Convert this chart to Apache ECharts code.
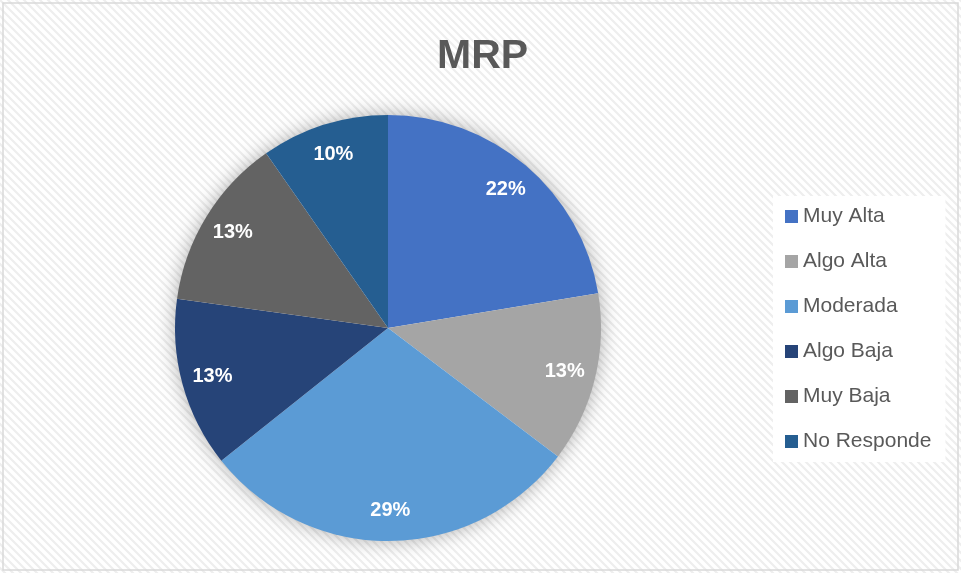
<!DOCTYPE html>
<html>
<head>
<meta charset="utf-8">
<script src="https://cdn.jsdelivr.net/npm/echarts@6/dist/echarts.min.js"></script>
<style>html,body{margin:0;padding:0;background:#fff;}#c{width:961px;height:573px;}</style>
</head>
<body>
<div id="c"></div>
<script>
const categories = ['Muy Alta', 'Algo Alta', 'Moderada', 'Algo Baja', 'Muy Baja', 'No Responde'];
const values = [22.4, 12.9, 29.0, 12.9, 13.1, 9.7];
const colors = ['#4472C4', '#A5A5A5', '#5B9BD5', '#264478', '#636363', '#255E91'];
const titleText = 'MRP';

const pc = document.createElement('canvas');
pc.width = 8; pc.height = 8;
const g = pc.getContext('2d');
g.fillStyle = '#ffffff'; g.fillRect(0, 0, 8, 8);
g.strokeStyle = '#eeeeee'; g.lineWidth = 2.2;
g.beginPath();
g.moveTo(-2, -2); g.lineTo(10, 10);
g.moveTo(-10, -2); g.lineTo(2, 10);
g.moveTo(6, -2); g.lineTo(18, 10);
g.stroke();

const data = categories.map((n, i) => ({ name: n, value: values[i], itemStyle: { color: colors[i] } }));

const chart = echarts.init(document.getElementById('c'), null, { renderer: 'canvas' });
chart.setOption({
  backgroundColor: { image: pc, repeat: 'repeat' },
  animation: false,
  title: {
    text: titleText,
    left: 432,
    top: 31,
    textStyle: { fontFamily: 'Liberation Sans', fontWeight: 'bold', fontSize: 41, color: '#595959' }
  },
  graphic: [{
    type: 'rect', shape: { x: 3, y: 3, width: 955, height: 567 },
    style: { fill: null, stroke: '#d9d9d9', lineWidth: 1.5 }, silent: true
  }],
  legend: {
    orient: 'vertical',
    left: 773,
    top: 196,
    padding: [10, 14, 10, 12],
    backgroundColor: '#ffffff',
    itemWidth: 13,
    itemHeight: 13,
    itemGap: 24,
    icon: 'rect',
    data: categories,
    textStyle: { fontFamily: 'Liberation Sans', fontSize: 21, color: '#595959', lineHeight: 21 }
  },
  series: [{
    type: 'pie',
    z: 1,
    center: [388, 328],
    radius: [0, 212],
    silent: true,
    data: [{ name: '_shadow', value: 1, itemStyle: { color: '#ffffff' } }],
    label: { show: false },
    labelLine: { show: false },
    itemStyle: { shadowBlur: 20, shadowColor: 'rgba(0,0,0,0.35)' },
    emphasis: { disabled: true }
  }, {
    type: 'pie',
    z: 2,
    center: [388, 328],
    radius: [0, 213],
    startAngle: 90,
    clockwise: true,
    data: data,
    label: { show: false },
    labelLine: { show: false },
    emphasis: { disabled: true }
  }, {
    type: 'pie',
    z: 3,
    center: [388, 328],
    radius: [145, 213],
    startAngle: 90,
    clockwise: true,
    silent: true,
    data: data.map(d => ({ name: d.name, value: d.value, itemStyle: { color: 'rgba(0,0,0,0)' } })),
    label: {
      show: true,
      position: 'inside',
      formatter: p => Math.round(p.value) + '%',
      fontFamily: 'Liberation Sans', fontWeight: 'bold', fontSize: 20, color: '#ffffff'
    },
    labelLine: { show: false },
    emphasis: { disabled: true }
  }]
});
</script>
</body>
</html>
